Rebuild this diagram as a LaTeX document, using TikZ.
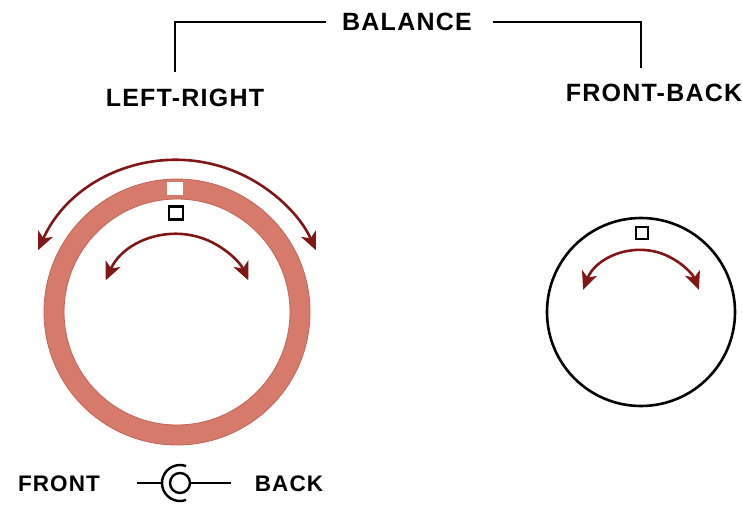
\documentclass[tikz,border=0pt]{standalone}
\usepackage{fontspec}
\usepackage{tikz}
\usetikzlibrary{
    arrows.meta,
    positioning,
    calc
}
\newfontfamily\panelfont{Liberation Sans}[LetterSpace=5]
\definecolor{ringred}{RGB}{214,122,108}
\definecolor{ringedge}{RGB}{196,100,88}
\definecolor{swingred}{RGB}{128,22,22}
\tikzset{
    % Labels
    panellabel/.style={
        font=\panelfont\bfseries\fontsize{25}{27}\selectfont,
        inner sep=0pt
    },
    smalllabel/.style={
        font=\panelfont\bfseries\fontsize{22.5}{24}\selectfont,
        inner sep=0pt
    },
    % Lines
    bracketline/.style={
        line width=2.8pt,
        draw=black
    },
    % Knobs
    ringknob/.style={
        circle,
        draw=ringred,
        line width=20pt,
        minimum size=246pt,
        inner sep=0pt
    },
    plainknob/.style={
        circle,
        draw=black,
        line width=2.6pt,
        minimum size=188pt,
        inner sep=0pt
    },
    marker/.style={
        rectangle,
        draw=black,
        line width=2.8pt,
        fill=white,
        inner sep=0pt
    },
    % Arrows
    swing/.style={
        {Stealth[length=18pt,width=16pt,inset=5pt]}-{Stealth[length=18pt,width=16pt,inset=5pt]},
        line width=2.6pt,
        draw=swingred
    },
    switchline/.style={
        line width=2.4pt,
        draw=black
    }
}

\begin{document}
\begin{tikzpicture}[x=1pt,y=1pt]
    \useasboundingbox (0,0) rectangle (742,-511);

    % Title and labels
    \node[panellabel] (balance) at (407,-22) {BALANCE};
    \node[panellabel] (leftright) at (185,-98) {LEFT-RIGHT};
    \node[panellabel] (frontback) at (654,-93) {FRONT-BACK};

    % Bracket from BALANCE
    \coordinate (lrtop) at (175,-72);
    \coordinate (fbtop) at (641,-68);
    \draw[bracketline] ([xshift=-16pt]balance.west) -| (lrtop);
    \draw[bracketline] ([xshift=21pt]balance.east) -| (fbtop);

    % Left-right knob (ring)
    \coordinate (ringc) at (177,-312);
    \node[ringknob] (ring) at (ringc) {};
    \draw[ringedge, line width=0.8pt] (ringc) circle[radius=133];
    \draw[ringedge, line width=0.8pt] (ringc) circle[radius=113];
    \node[rectangle, fill=white, minimum width=16pt, minimum height=13pt, inner sep=0pt] (ringmark) at (175,-188) {};
    \node[marker, minimum width=14pt, minimum height=13pt] (ringdot) at (176,-213) {};

    % Swing arrows, left knob
    \draw[swing] (ringc) ++(156:152) arc[start angle=156, end angle=24, radius=152];
    \draw[swing] (ringc) ++(156:78) arc[start angle=156, end angle=24, radius=78];

    % Front-back knob
    \coordinate (knobc) at (641,-312);
    \node[plainknob] (knob) at (knobc) {};
    \node[marker, minimum width=12pt, minimum height=12pt] (knobdot) at (642,-233) {};
    \draw[swing] (knobc) ++(159:62) arc[start angle=159, end angle=21, radius=62];

    % Switch
    \node[smalllabel] (front) at (59,-484) {FRONT};
    \node[smalllabel] (back) at (289,-484) {BACK};
    \node[circle, draw=black, line width=2.4pt, minimum size=20pt, inner sep=0pt] (sw) at (180,-483) {};
    \node[circle, minimum size=36pt, inner sep=0pt] (swout) at (180,-483) {};
    \draw[switchline] (sw.center) ++(70:18) arc[start angle=70, end angle=290, radius=18];
    \coordinate (swleft) at (137,-483);
    \coordinate (swright) at (231,-483);
    \draw[switchline] (swleft) -- (swout.west);
    \draw[switchline] (sw.east) -- (swright);

\end{tikzpicture}
\end{document}
